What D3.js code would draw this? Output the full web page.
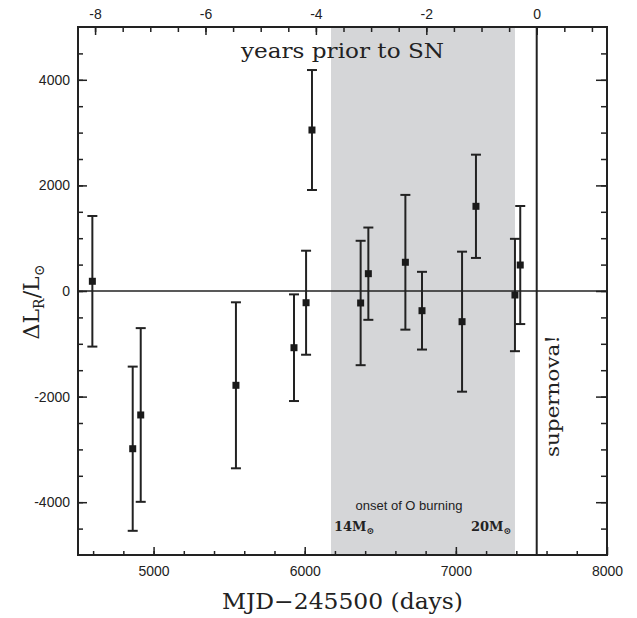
<!DOCTYPE html>
<html>
<head>
<meta charset="utf-8">
<script src="https://cdn.jsdelivr.net/npm/d3@7"></script>
<style>
  body { margin: 0; background: #fff; }
  svg { display: block; }
  .tick text { font-family: "Liberation Sans", Arial, sans-serif; font-size: 14px; fill: #222; }
  .tick line { stroke: #222; stroke-width: 1.5; }
</style>
</head>
<body>
<svg id="chart" width="637" height="618"></svg>
<script>
// observation epochs (MJD-245500, days)
const days = [4595, 4862, 4915, 5545, 5929, 6009, 6048, 6370, 6421, 6666, 6776, 7041, 7133, 7391, 7426];
// luminance change in L_sun and 1-sigma error
const dL = [184, -2987, -2348, -1786, -1074, -222, 3049, -227, 328, 544, -373, -581, 1604, -76, 492];
const dLerr = [1237, 1555, 1645, 1572, 1010, 985, 1136, 1178, 874, 1276, 736, 1326, 978, 1064, 1118];

const snDay = 7535;               // supernova date
const oBurning = [6174, 7391];    // onset of O burning, 14 Msun .. 20 Msun

const xTicks = [5000, 6000, 7000, 8000];
const yTicks = [-4000, -2000, 0, 2000, 4000];
const yearTicks = [-8, -6, -4, -2, 0];

const points = days.map((d, i) => ({ day: d, val: dL[i], err: dLerr[i] }));

const svg = d3.select('#chart');
const pLeft = 78, pRight = 607, pTop = 27, pBottom = 555;

const x = d3.scaleLinear().domain([4500, 8000]).range([pLeft, pRight]);
const y = d3.scaleLinear().domain([-5000, 5000]).range([pBottom, pTop]);
// years before SN on the top axis
const xYr = d3.scaleLinear()
  .domain([(4500 - snDay) / 365.25, (8000 - snDay) / 365.25])
  .range([pLeft, pRight]);

// shaded O burning band
svg.append('rect')
  .attr('x', x(oBurning[0]))
  .attr('y', pTop)
  .attr('width', x(oBurning[1]) - x(oBurning[0]))
  .attr('height', pBottom - pTop)
  .attr('fill', '#d5d6d8');

// axes (ticks point inward)
function noDomain(g) { g.select('.domain').remove(); }

svg.append('g').attr('transform', `translate(0,${pBottom})`)
  .call(d3.axisBottom(x).tickValues(d3.range(4600, 8000, 200)).tickSize(-4).tickFormat(''))
  .call(noDomain);
svg.append('g').attr('transform', `translate(0,${pBottom})`)
  .call(d3.axisBottom(x).tickValues(xTicks).tickSize(-8).tickPadding(11).tickFormat(d => d))
  .call(noDomain);

svg.append('g').attr('transform', `translate(0,${pTop})`)
  .call(d3.axisTop(xYr).tickValues(d3.range(-8, 1.01, 0.5)).tickSize(-5).tickFormat(''))
  .call(noDomain);
svg.append('g').attr('transform', `translate(0,${pTop})`)
  .call(d3.axisTop(xYr).tickValues(yearTicks).tickSize(-8).tickPadding(8).tickFormat(d => String(d)))
  .call(noDomain);

svg.append('g').attr('transform', `translate(${pLeft},0)`)
  .call(d3.axisLeft(y).tickValues(d3.range(-4500, 5000, 500)).tickSize(-5).tickFormat(''))
  .call(noDomain);
svg.append('g').attr('transform', `translate(${pLeft},0)`)
  .call(d3.axisLeft(y).tickValues(yTicks).tickSize(-9).tickPadding(8).tickFormat(d => String(d)))
  .call(noDomain);

svg.append('g').attr('transform', `translate(${pRight},0)`)
  .call(d3.axisRight(y).tickValues(d3.range(-4500, 5000, 500)).tickSize(-6).tickFormat(''))
  .call(noDomain);
svg.append('g').attr('transform', `translate(${pRight},0)`)
  .call(d3.axisRight(y).tickValues(yTicks).tickSize(-11).tickFormat(''))
  .call(noDomain);

// zero line
svg.append('line')
  .attr('x1', pLeft).attr('x2', pRight)
  .attr('y1', y(0)).attr('y2', y(0))
  .attr('stroke', '#222').attr('stroke-width', 1.6);

// supernova line
svg.append('line')
  .attr('x1', x(snDay)).attr('x2', x(snDay))
  .attr('y1', pTop).attr('y2', pBottom)
  .attr('stroke', '#222').attr('stroke-width', 2);

// frame
svg.append('rect')
  .attr('x', pLeft).attr('y', pTop)
  .attr('width', pRight - pLeft).attr('height', pBottom - pTop)
  .attr('fill', 'none').attr('stroke', '#222').attr('stroke-width', 2);

// error bars
const bars = svg.append('g').attr('stroke', '#222').attr('stroke-width', 2);
points.forEach(p => {
  const cx = x(p.day);
  bars.append('line').attr('x1', cx).attr('x2', cx)
    .attr('y1', y(p.val + p.err)).attr('y2', y(p.val - p.err));
  [p.val + p.err, p.val - p.err].forEach(v => {
    bars.append('line').attr('x1', cx - 5).attr('x2', cx + 5)
      .attr('y1', y(v)).attr('y2', y(v));
  });
});

// markers
svg.append('g').selectAll('rect')
  .data(points)
  .enter()
  .append('rect')
  .attr('x', d => x(d.day) - 3.5)
  .attr('y', d => y(d.val) - 3.5)
  .attr('width', 7).attr('height', 7)
  .attr('fill', '#1a1a1a');

// texts
const serif = '"DejaVu Serif", "Liberation Serif", serif';

svg.append('text')
  .attr('x', (pLeft + pRight) / 2).attr('y', 58)
  .attr('text-anchor', 'middle')
  .attr('font-family', serif).attr('font-size', 20)
  .attr('textLength', 203).attr('lengthAdjust', 'spacingAndGlyphs')
  .attr('fill', '#222')
  .text('years prior to SN');

svg.append('text')
  .attr('x', (pLeft + pRight) / 2).attr('y', 609)
  .attr('text-anchor', 'middle')
  .attr('font-family', serif).attr('font-size', 22)
  .attr('textLength', 241).attr('lengthAdjust', 'spacingAndGlyphs')
  .attr('fill', '#222')
  .text('MJD\u2212245500 (days)');

const yl = svg.append('text')
  .attr('transform', 'translate(39,302) rotate(-90)')
  .attr('text-anchor', 'middle')
  .attr('font-family', serif).attr('font-size', 22)
  .attr('fill', '#222');
yl.append('tspan').text('\u0394L');
yl.append('tspan').attr('dy', 5).attr('font-size', 14).text('R');
yl.append('tspan').attr('dy', -5).text('/L');
yl.append('tspan').attr('dy', 5).attr('font-size', 14).text('\u2299');

svg.append('text')
  .attr('transform', 'translate(559,396) rotate(-90)')
  .attr('text-anchor', 'middle')
  .attr('font-family', serif).attr('font-size', 19)
  .attr('textLength', 122).attr('lengthAdjust', 'spacingAndGlyphs')
  .attr('fill', '#222')
  .text('supernova!');

svg.append('text')
  .attr('x', (x(oBurning[0]) + x(oBurning[1])) / 2 - 14).attr('y', 510)
  .attr('text-anchor', 'middle')
  .attr('font-family', '"Liberation Sans", Arial, sans-serif').attr('font-size', 13)
  .attr('fill', '#222')
  .text('onset of O burning');

function massLabel(xPos, anchor, m) {
  const t = svg.append('text')
    .attr('x', xPos).attr('y', 531)
    .attr('text-anchor', anchor)
    .attr('font-family', serif).attr('font-size', 13).attr('font-weight', 'bold')
    .attr('fill', '#222');
  t.append('tspan').text(m + 'M');
  t.append('tspan').attr('dy', 3).attr('font-size', 9).text('\u2299');
}
massLabel(x(oBurning[0]) + 3, 'start', 14);
massLabel(x(oBurning[1]) - 4, 'end', 20);
</script>
</body>
</html>
